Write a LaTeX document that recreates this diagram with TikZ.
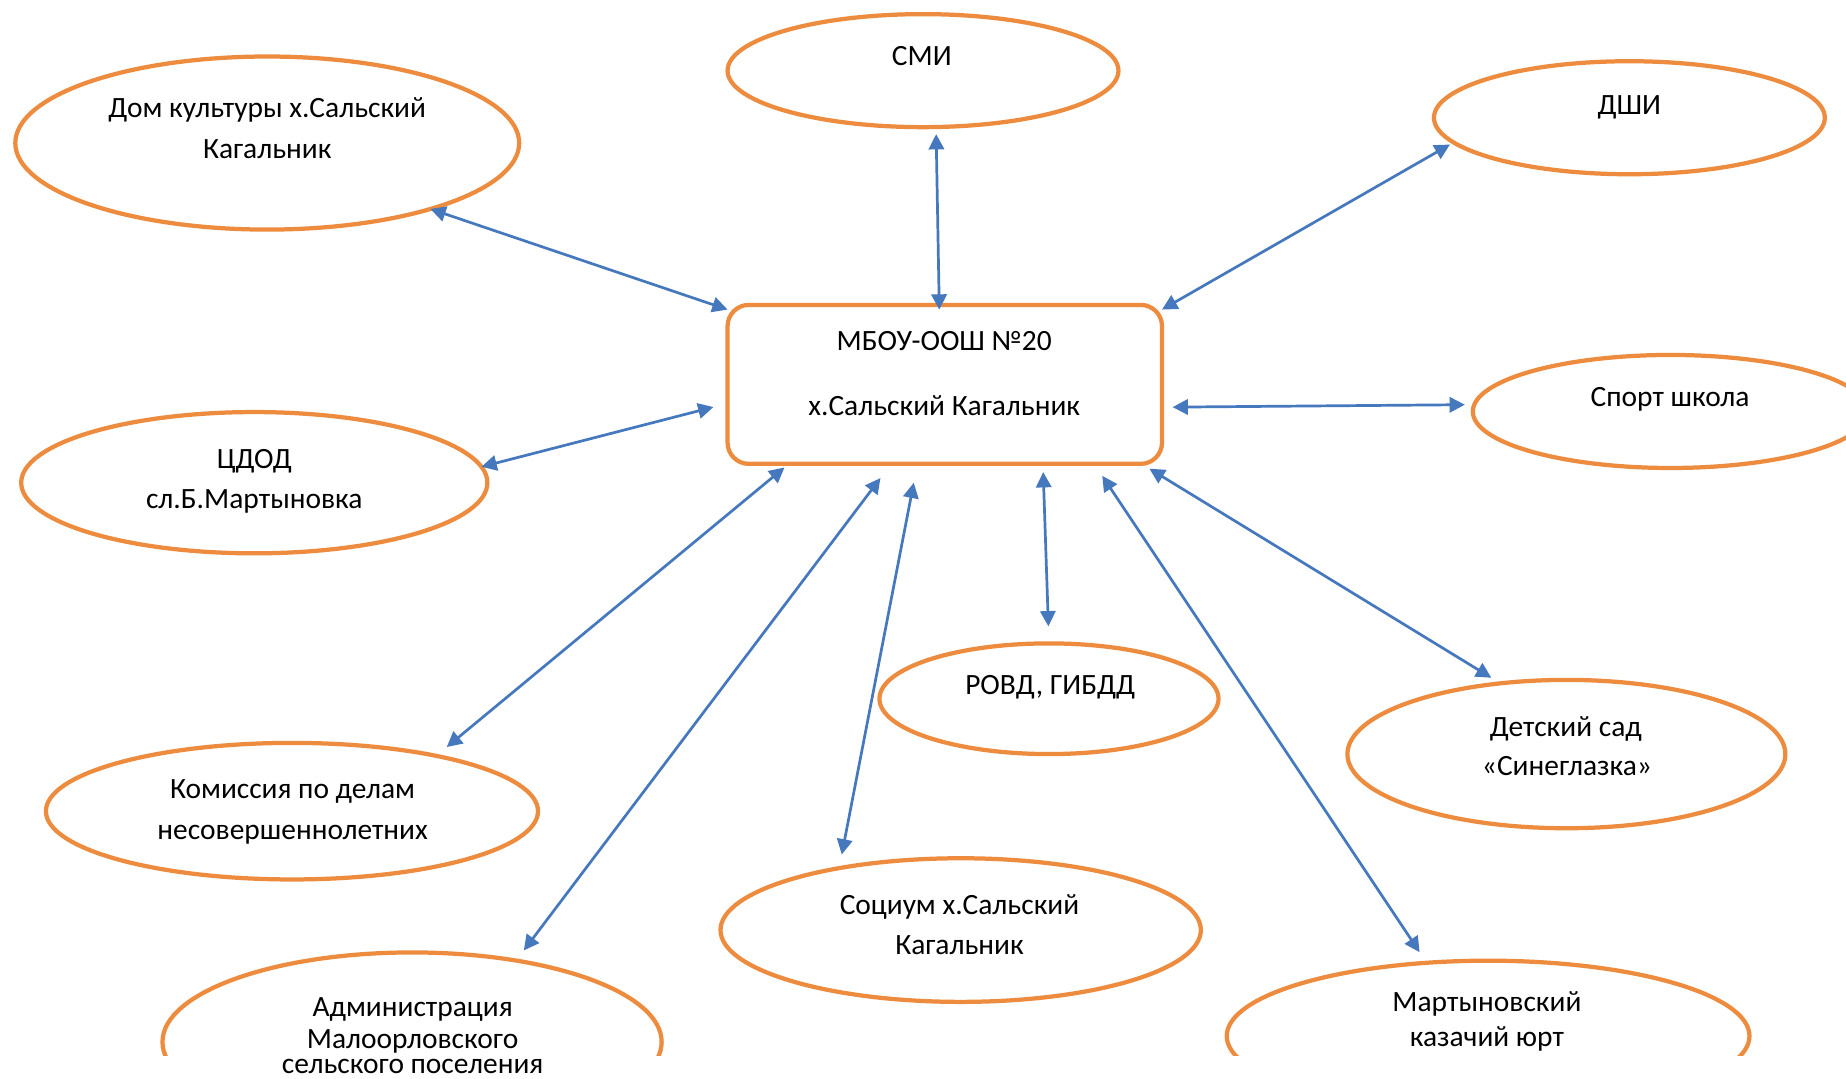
\documentclass[tikz,border=0pt]{standalone}
\usepackage{fontspec}
\setmainfont{Carlito}
\usetikzlibrary{shapes.geometric,arrows.meta}
\definecolor{borange}{RGB}{237,140,62}
\definecolor{ablue}{RGB}{70,120,190}
\begin{document}
\begin{tikzpicture}[x=1pt,y=-1pt,
  ell/.style={ellipse, draw=borange, line width=3.6pt, inner sep=0pt, outer sep=0pt},
  hub/.style={rectangle, rounded corners=18pt, draw=borange, line width=3.6pt, inner sep=0pt, outer sep=0pt, minimum width=369pt, minimum height=135pt},
  lbl/.style={anchor=base, inner sep=0pt, font=\fontsize{25}{30}\selectfont, text=black},
  link/.style={draw=ablue, line width=2.3pt, {Triangle[length=13pt,width=13pt]}-{Triangle[length=13pt,width=13pt]}}
]
\useasboundingbox (0,0) rectangle (1568,916);
\fill[white] (0,0) rectangle (1568,916);

\begin{scope}
\clip (0,0) rectangle (1568,896.5);
\node[hub] (box) at (802.5,326.5) {};
\node[ell, minimum width=332pt, minimum height=96pt]  (smi)   at (784,60) {};
\node[ell, minimum width=428pt, minimum height=147pt] (dk)    at (227,121.5) {};
\node[ell, minimum width=332pt, minimum height=96pt]  (dshi)  at (1384,100) {};
\node[ell, minimum width=336pt, minimum height=96pt]  (sport) at (1419,349.5) {};
\node[ell, minimum width=396pt, minimum height=120pt] (cdod)  at (216,410) {};
\node[ell, minimum width=418pt, minimum height=116pt] (kdn)   at (248,689) {};
\node[ell, minimum width=424pt, minimum height=152pt] (adm)   at (350,885) {};
\node[ell, minimum width=408pt, minimum height=122pt] (soc)   at (816,790) {};
\node[ell, minimum width=288pt, minimum height=94pt]  (rovd)  at (891,593.5) {};
\node[ell, minimum width=372pt, minimum height=126pt] (ds)    at (1330.5,640.5) {};
\node[ell, minimum width=444pt, minimum height=128pt] (mk)    at (1264,880) {};
\end{scope}

% texts
\node[lbl] (tbox1) at (802,298) {МБОУ-ООШ №20};
\node[lbl] (tbox2) at (802,352.5) {х.Сальский Кагальник};
\node[lbl] (tsmi) at (783,56) {СМИ};
\node[lbl] (tdk1) at (227,99.5) {Дом культуры х.Сальский};
\node[lbl] (tdk2) at (227,134.5) {Кагальник};
\node[lbl] (tdshi) at (1384,97.5) {ДШИ};
\node[lbl] (tsport) at (1418.5,345.5) {Спорт школа};
\node[lbl] (tcdod1) at (216,398) {ЦДОД};
\node[lbl] (tcdod2) at (216,432) {сл.Б.Мартыновка};
\node[lbl] (trovd) at (892,589.5) {РОВД, ГИБДД};
\node[lbl] (tds1) at (1330,626) {Детский сад};
\node[lbl] (tds2) at (1331,659) {«Синеглазка»};
\node[lbl] (tkdn1) at (248.5,678.5) {Комиссия по делам};
\node[lbl] (tkdn2) at (248.5,713) {несовершеннолетних};
\node[lbl] (tsoc1) at (815,777) {Социум х.Сальский};
\node[lbl] (tsoc2) at (815,811) {Кагальник};
\node[lbl] (tadm1) at (350.5,863) {Администрация};
\node[lbl] (tadm2) at (350.5,891) {Малоорловского};
\node[lbl] (tadm3) at (350.5,912) {сельского поселения};
\node[lbl] (tmk1) at (1263,859) {Мартыновский};
\node[lbl] (tmk2) at (1263,888.5) {казачий юрт};

% connectors
\draw[link] (box.161.5) -- (dk.-22.1);
\draw[link, shorten <=-4pt, shorten >=6pt] (box.94.7) -- (smi.-77.2);
\draw[link, shorten >=3.6pt] (box.19.8) -- (dshi.188.1);
\draw[link, shorten <=9pt, shorten >=8pt] (box.-6.6) -- (sport.178.8);
\draw[link, shorten <=12.4pt] (box.185.4) -- (cdod.4.06);
\draw[link, shorten <=4.8pt, shorten >=11.7pt] (box.207.8) -- (kdn.21.9);
\draw[link, shorten <=15.1pt, shorten >=10.8pt] (box.236.7) -- (adm.38.8);
\draw[link, shorten <=16.3pt, shorten >=11.8pt] (box.251.7) -- (soc.153.3);
\draw[link, shorten <=7pt, shorten >=14.5pt] (box.-39.7) -- (rovd.90.4);
\draw[link, shorten <=12.2pt, shorten >=10.85pt] (box.-28.3) -- (mk.130.9);
\draw[link, shorten <=7.9pt, shorten >=9.1pt] (box.-22.1) -- (ds.133.9);
\end{tikzpicture}
\end{document}
